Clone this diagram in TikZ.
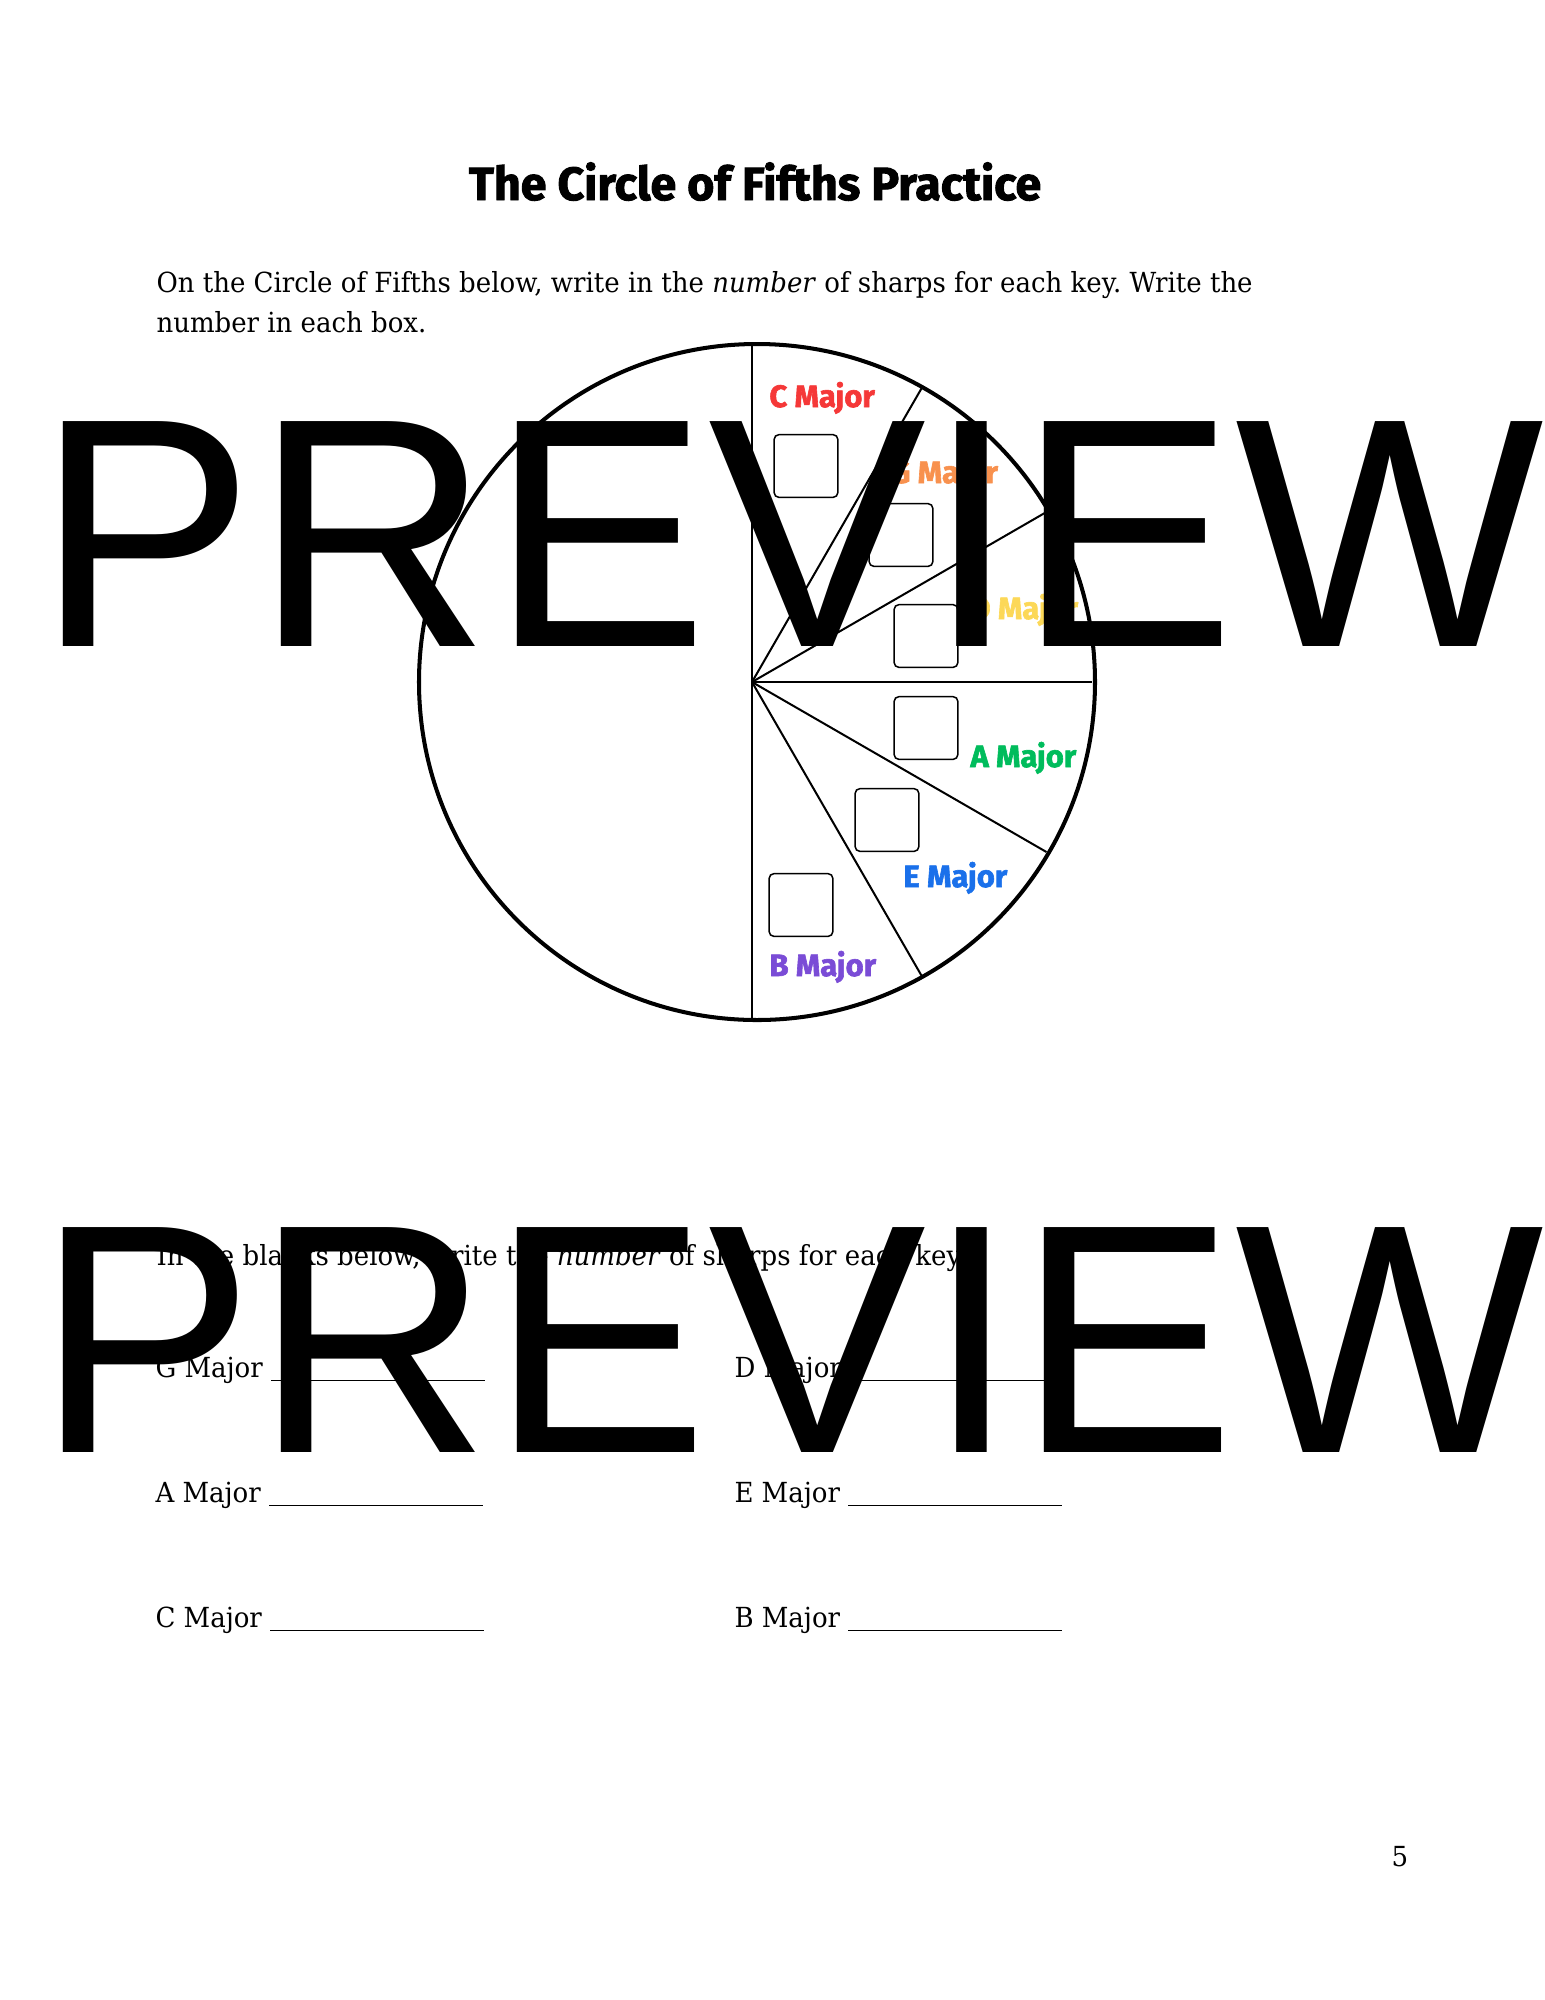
\documentclass[tikz,border=0pt]{standalone}
\usepackage{fontspec}
\setmainfont[FakeStretch=0.94]{DejaVu Serif}
\newfontfamily\headfont[BoldFeatures={FakeBold=2}]{Fira Sans}
\newfontfamily\stampfont{Liberation Sans}
\usetikzlibrary{positioning}
\frenchspacing

\definecolor{cred}{RGB}{245,56,56}
\definecolor{gorange}{RGB}{248,145,78}
\definecolor{dyellow}{RGB}{252,216,88}
\definecolor{agreen}{RGB}{0,188,92}
\definecolor{eblue}{RGB}{26,112,234}
\definecolor{bpurple}{RGB}{122,76,214}

\tikzset{
    body/.style={anchor=base west, inner sep=0pt, font=\fontsize{11}{13}\selectfont},
    keylabel/.style={anchor=base west, inner sep=0pt, font=\headfont\bfseries\fontsize{12.3}{15}\selectfont},
    answerbox/.style={draw, rounded corners=2pt, line width=0.6pt, minimum width=25.4pt, minimum height=25pt, inner sep=0pt},
    stamp/.style={anchor=base west, inner sep=0pt, font=\stampfont\fontsize{130}{130}\selectfont}
}

\begin{document}
\begin{tikzpicture}[x=0.3976pt, y=-0.3976pt]
    \useasboundingbox (0,0) rectangle (1545,2000);

    % Heading
    \node[anchor=base, inner sep=0pt, font=\headfont\bfseries\fontsize{18.5}{22}\selectfont] (title) at (755,200) {The Circle of Fifths Practice};
    \node[body] (intro1) at (156,292) {On the Circle of Fifths below, write in the \emph{number} of sharps for each key. Write the};
    \node[body] (intro2) at (156,332) {number in each box.};

    % Circle
    \coordinate (hub) at (752,682);
    \draw[line width=1.6pt] (757,682) circle (338);
    \draw[line width=0.9pt] (752,344) -- (752,1020);
    \foreach \ang in {-60,-30,0,30,60} {
        \draw[line width=0.8pt] (hub) -- ++(\ang:340);
    }

    % Boxes
    \node[answerbox] (cbox) at (806,466) {};
    \node[answerbox] (gbox) at (901,535) {};
    \node[answerbox] (dbox) at (926,636) {};
    \node[answerbox] (abox) at (926,728) {};
    \node[answerbox] (ebox) at (887,820) {};
    \node[answerbox] (bbox) at (801,905) {};

    % Key labels
    \node[keylabel, text=cred] (clabel) at (769,407) {C Major};
    \node[keylabel, text=gorange] (glabel) at (890,483) {G Major};
    \node[keylabel, text=dyellow] (dlabel) at (970,619) {D Major};
    \node[keylabel, text=agreen] (alabel) at (970,767) {A Major};
    \node[keylabel, text=eblue] (elabel) at (903,887) {E Major};
    \node[keylabel, text=bpurple] (blabel) at (769,976) {B Major};

    % Blanks
    \node[body] (task) at (156,1265) {In the blanks below, write the \emph{number} of sharps for each key.};
    \node[body] (gline) at (155,1377) {G Major \rule[-1.6pt]{85pt}{0.4pt}};
    \node[body] (dline) at (734,1377) {D Major \rule[-1.6pt]{85pt}{0.4pt}};
    \node[body] (aline) at (155,1502) {A Major \rule[-1.6pt]{85pt}{0.4pt}};
    \node[body] (eline) at (734,1502) {E Major \rule[-1.6pt]{85pt}{0.4pt}};
    \node[body] (cline) at (155,1627) {C Major \rule[-1.6pt]{85pt}{0.4pt}};
    \node[body] (bline) at (734,1627) {B Major \rule[-1.6pt]{85pt}{0.4pt}};

    % Page number
    \node[anchor=base, inner sep=0pt, font=\fontsize{11}{13}\selectfont] (pagenum) at (1400,1866) {5};

    % Watermark
    \node[stamp] (stamp1) at (36,646) {PREVIEW};
    \node[stamp] (stamp2) at (36,1452) {PREVIEW};
\end{tikzpicture}
\end{document}
